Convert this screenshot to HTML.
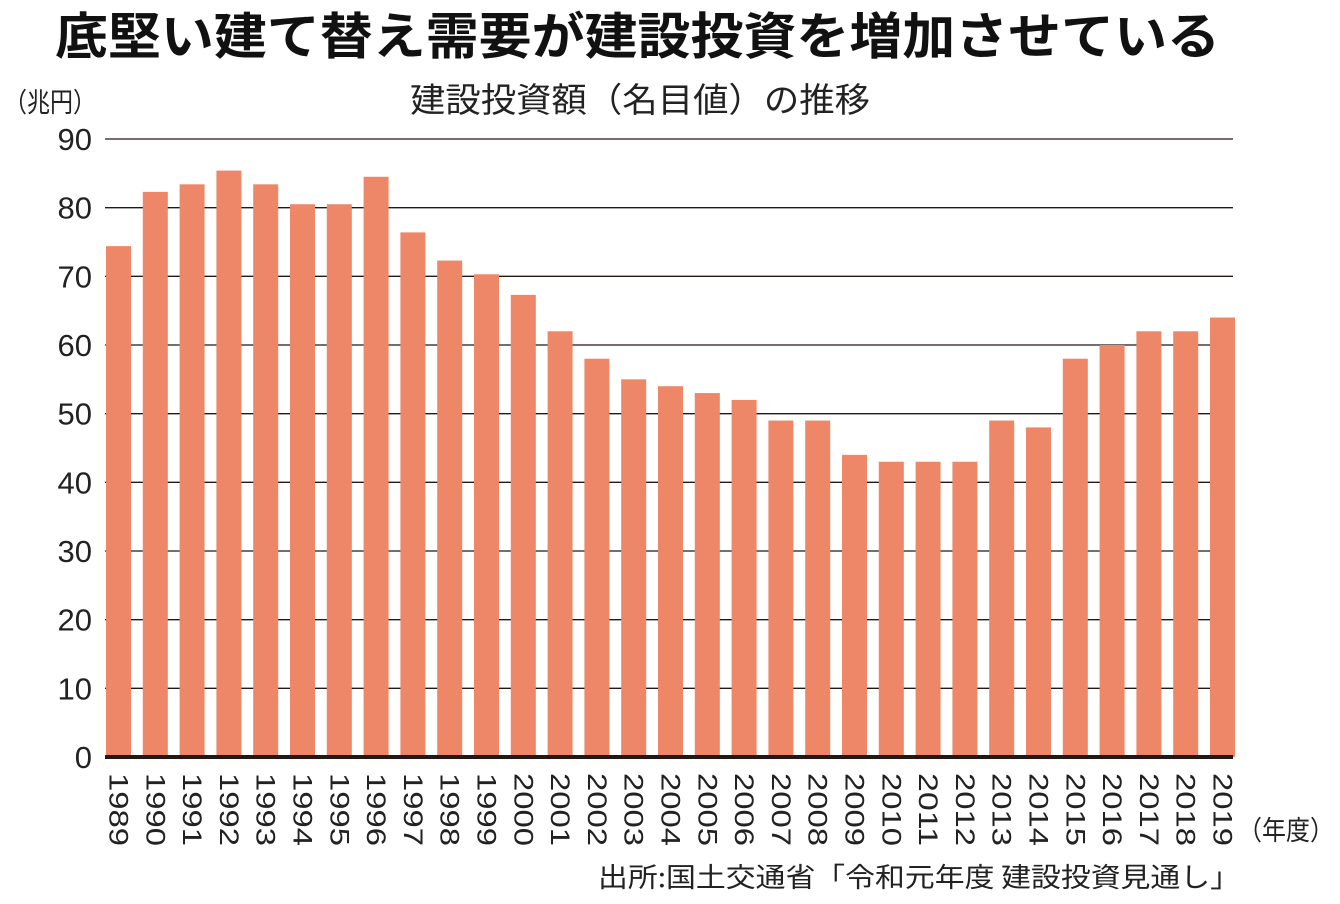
<!DOCTYPE html>
<html><head><meta charset="utf-8"><style>
body{margin:0;background:#fff;}
svg{display:block;font-family:"Liberation Sans","Noto Sans CJK JP",sans-serif;}
</style></head><body>
<svg id="chart" width="1340" height="904" viewBox="0 0 1340 904">
<text x="55" y="54" font-size="50" font-weight="bold" fill="#111" textLength="1165" lengthAdjust="spacingAndGlyphs" font-family="'Noto Sans CJK JP',sans-serif">底堅い建て替え需要が建設投資を増加させている</text>
<text x="410" y="112" font-size="34" fill="#222" textLength="460" lengthAdjust="spacingAndGlyphs" font-family="'Noto Sans CJK JP',sans-serif">建設投資額（名目値）の推移</text>
<text x="4" y="112" font-size="27" fill="#222" textLength="92" lengthAdjust="spacingAndGlyphs" font-family="'Noto Sans CJK JP',sans-serif">（兆円）</text>
<g id="grid"></g><g id="bars"></g><g id="xlabels"></g>
<line x1="105" x2="1233" y1="757" y2="757" stroke="#231815" stroke-width="4"/>
<text x="1238" y="840" font-size="27" fill="#222" textLength="96" lengthAdjust="spacingAndGlyphs" font-family="'Noto Sans CJK JP',sans-serif">（年度）</text>
<text x="598" y="887" font-size="27" fill="#222" textLength="642" lengthAdjust="spacingAndGlyphs" font-family="'Noto Sans CJK JP',sans-serif">出所:国土交通省「令和元年度 建設投資見通し」</text>
</svg>
<script>
const years=[1989,1990,1991,1992,1993,1994,1995,1996,1997,1998,1999,2000,2001,2002,2003,2004,2005,2006,2007,2008,2009,2010,2011,2012,2013,2014,2015,2016,2017,2018,2019];
const values=[74.4,82.3,83.4,85.4,83.4,80.5,80.5,84.5,76.4,72.3,70.3,67.3,62,58,55,54,53,52,49,49,44,43,43,43,49,48,58,60,62,62,64];
const yTicks=[0,10,20,30,40,50,60,70,80,90];
const NS="http://www.w3.org/2000/svg";
const y=v=>757-v*(618/90);
const x0=106,pitch=36.8,bw=25;
const xs=i=>x0+i*pitch;
const g=document.getElementById('grid');
yTicks.forEach(t=>{
  if(t>0){const l=document.createElementNS(NS,'line');
  
  
  l.setAttribute('x1',105);l.setAttribute('x2',1233);l.setAttribute('y1',y(t));l.setAttribute('y2',y(t));
  l.setAttribute('stroke','#231815');l.setAttribute('stroke-width','1.3');g.appendChild(l);}
  const tx=document.createElementNS(NS,'text');
  
  
  tx.setAttribute('x',92);tx.setAttribute('y',y(t)+11);tx.setAttribute('text-anchor','end');
  tx.setAttribute('font-size','31');tx.setAttribute('fill','#222');tx.textContent=t;g.appendChild(tx);
});
const b=document.getElementById('bars'),xl=document.getElementById('xlabels');
values.forEach((v,i)=>{
  const r=document.createElementNS(NS,'rect');
  
  
  r.setAttribute('x',xs(i));r.setAttribute('width',bw);r.setAttribute('y',y(v));r.setAttribute('height',757-y(v));
  r.setAttribute('fill','#ed8767');b.appendChild(r);
  const t=document.createElementNS(NS,'text');
  
  
  const cx=xs(i)+bw/2-9;
  t.setAttribute('transform','translate('+cx+',773) rotate(90)');
  t.setAttribute('font-size','27');t.setAttribute('fill','#222');
  t.setAttribute('textLength','73');t.setAttribute('lengthAdjust','spacingAndGlyphs');
  t.textContent=years[i];xl.appendChild(t);
});
</script>
</body></html>
